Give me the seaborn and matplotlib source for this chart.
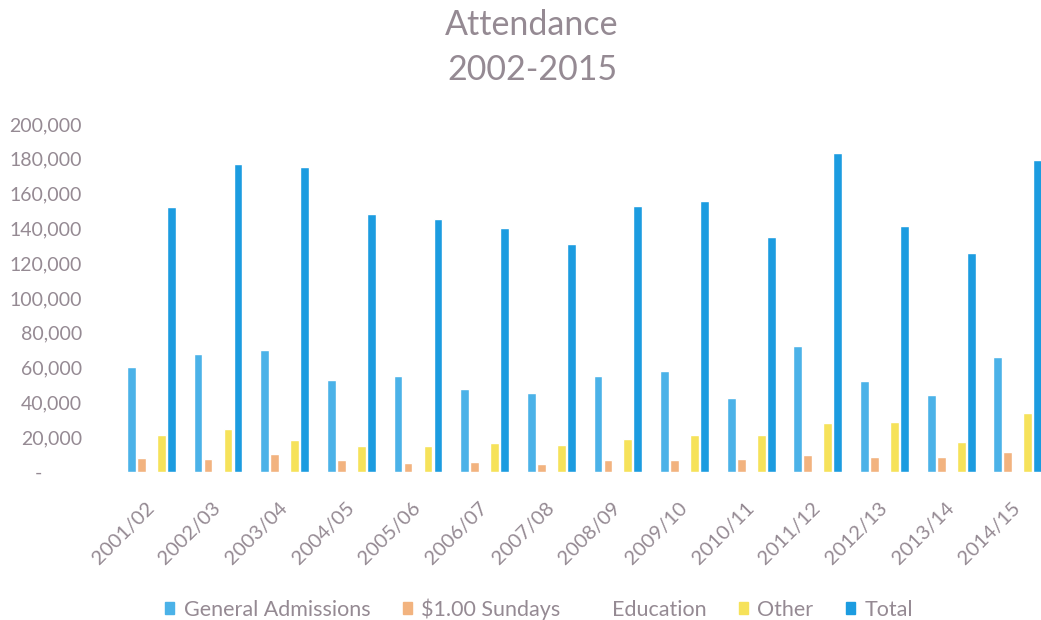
import numpy as np
import pandas as pd
import matplotlib.pyplot as plt
import seaborn as sns
from matplotlib.ticker import FuncFormatter

# DATA
years = ["2001/02", "2002/03", "2003/04", "2004/05", "2005/06", "2006/07", "2007/08",
         "2008/09", "2009/10", "2010/11", "2011/12", "2012/13", "2013/14", "2014/15"]

general_admissions = [60200, 67600, 70100, 52700, 55200, 47700, 45600,
                      55300, 58200, 42500, 72600, 52300, 44300, 66300]
sundays = [8000, 7500, 10200, 6700, 5200, 5700, 4400,
           6700, 6900, 7300, 9600, 8800, 8800, 11500]
education = [63000, 77200, 76400, 74000, 69700, 70600, 65300,
             71900, 69100, 64000, 72700, 51400, 55700, 67400]
other = [21300, 24700, 18400, 14900, 15100, 16500, 15500,
         19000, 21400, 21100, 28300, 28900, 17200, 34100]
total = [152500, 177000, 175100, 148300, 145200, 140500, 130800,
         152900, 155600, 134900, 183200, 141400, 126000, 179300]

series_names = ["General Admissions", "$1.00 Sundays", "Education", "Other", "Total"]
colors = ["#4bb2e8", "#f2b37f", "#ffffff", "#f6e25a", "#1c9ce0"]

# LONG TABLE FOR SEABORN
df = pd.DataFrame({
    "year": years * 5,
    "series": np.repeat(series_names, len(years)),
    "value": general_admissions + sundays + education + other + total,
})

# STYLE
sns.set_theme(style="white")
plt.rcParams["font.family"] = ["Lato", "DejaVu Sans"]
text_color = "#958a93"

# PLOT
fig = plt.figure(figsize=(10.41, 6.2), dpi=100)
ax = fig.add_axes([0.1134, 0.2387, 0.8963, 0.5613])

sns.barplot(data=df, x="year", y="value", hue="series", hue_order=series_names,
            palette=colors, width=0.75, gap=0.12, saturation=1,
            errorbar=None, ax=ax, legend=False)

ax.set_ylim(0, 200000)
ax.set_yticks(range(0, 200001, 20000))
ax.yaxis.set_major_formatter(FuncFormatter(
    lambda v, p: "-" + " " * 8 if v == 0 else f"{int(v):,}"))
ax.tick_params(axis="y", length=0, pad=26, labelsize=14, labelcolor=text_color)
ax.tick_params(axis="x", length=0, pad=24, labelsize=14.5, labelcolor=text_color)
for lab in ax.get_xticklabels():
    lab.set_rotation(45)
    lab.set_ha("right")
    lab.set_va("center")
    lab.set_rotation_mode("anchor")

ax.set_xlabel("")
ax.set_ylabel("")
sns.despine(ax=ax, left=True, bottom=True)

# TITLE
fig.text(532 / 1041, 1 - 25 / 620, "Attendance", ha="center", va="center",
         fontsize=24.5, color=text_color)
fig.text(532 / 1041, 1 - 70 / 620, "2002-2015", ha="center", va="center",
         fontsize=24.5, color=text_color)

# LEGEND
handles = [plt.Rectangle((0, 0), 1, 1, color=c) for c in colors]
fig.legend(handles, series_names, loc="center", ncol=5, frameon=False,
           bbox_to_anchor=(539 / 1041, 1 - 609 / 620), fontsize=15.5,
           labelcolor=text_color, handlelength=0.42, handleheight=0.42,
           handletextpad=0.45, columnspacing=1.5)

plt.savefig("out.png", dpi=100)
